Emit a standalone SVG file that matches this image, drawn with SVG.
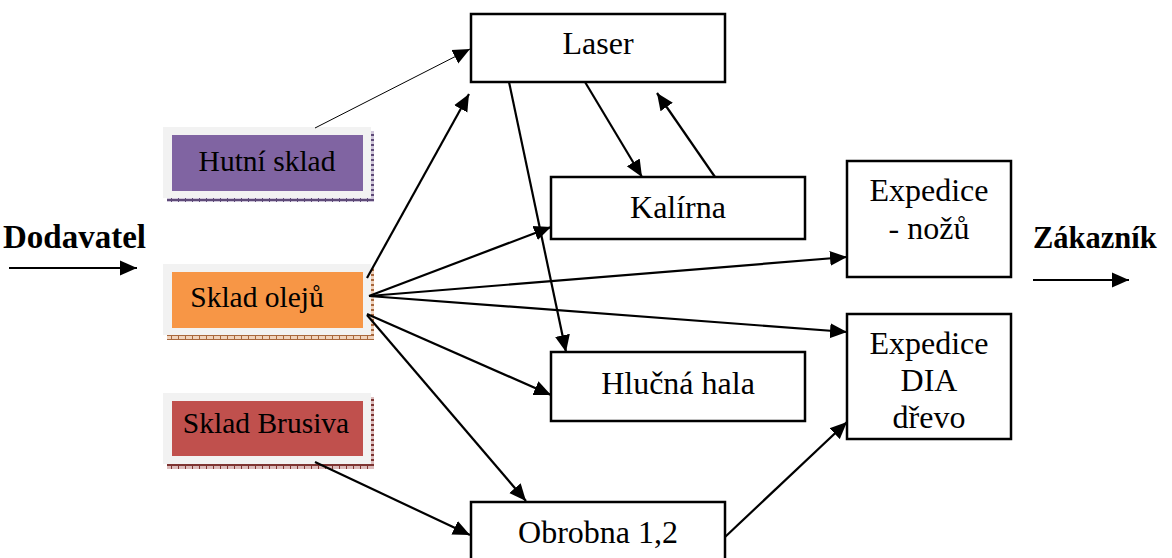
<svg xmlns="http://www.w3.org/2000/svg" width="1172" height="558" viewBox="0 0 1172 558">
  <style>
    .box { fill: #ffffff; stroke: #000000; stroke-width: 2.5; }
    .frame { fill: #f2f2f2; }
    .lbl { font-family: "Liberation Serif", "Times New Roman", serif; font-size: 32px; fill: #000000; text-anchor: middle; }
    .store { font-family: "Liberation Serif", "Times New Roman", serif; font-size: 29.5px; fill: #000000; text-anchor: middle; }
    .side { font-family: "Liberation Serif", "Times New Roman", serif; font-weight: bold; fill: #000000; }
    .conn { fill: none; stroke: #000000; stroke-width: 2.2; marker-end: url(#arrow); }
    .thin { fill: none; stroke: #000000; stroke-width: 1; marker-end: url(#arrow); }
  </style>
  <defs>
    <marker id="arrow" markerUnits="userSpaceOnUse" markerWidth="18" markerHeight="16" refX="17" refY="8" orient="auto">
      <path d="M0,0.5 L17,8 L0,15.5 Z" fill="#000000"/>
    </marker>
    <!-- hatched drop-shadow strips under the store boxes -->
    <pattern id="hatchPurple" width="7" height="5" patternUnits="userSpaceOnUse">
      <rect width="7" height="5" fill="#cfc6da"/>
      <path d="M0,0.5 H7 M0,4.5 H7 M3.5,0 V5" stroke="#5e4a78" stroke-width="1"/>
    </pattern>
    <pattern id="hatchOrange" width="7" height="5" patternUnits="userSpaceOnUse">
      <rect width="7" height="5" fill="#f0d3bd"/>
      <path d="M0,0.5 H7 M0,4.5 H7 M3.5,0 V5" stroke="#a8673c" stroke-width="1"/>
    </pattern>
    <pattern id="hatchRed" width="7" height="5" patternUnits="userSpaceOnUse">
      <rect width="7" height="5" fill="#dcbcbc"/>
      <path d="M0,0.5 H7 M0,4.5 H7 M3.5,0 V5" stroke="#7e3432" stroke-width="1"/>
    </pattern>
  </defs>

  <!-- side labels -->
  <g id="dodavatel">
    <text class="side" x="3" y="248" font-size="33">Dodavatel</text>
    <line x1="9" y1="268" x2="137" y2="268" stroke="#000000" stroke-width="2" marker-end="url(#arrow)"/>
  </g>
  <g id="zakaznik">
    <text class="side" x="1033" y="248" font-size="30.5">Zákazník</text>
    <line x1="1033" y1="280" x2="1129" y2="280" stroke="#000000" stroke-width="2" marker-end="url(#arrow)"/>
  </g>

  <!-- stores -->
  <g id="hutni-sklad">
    <rect x="167" y="197" width="207" height="5" fill="url(#hatchPurple)"/>
    <rect x="370" y="131" width="4" height="71" fill="url(#hatchPurple)"/>
    <rect class="frame" x="163" y="127" width="208" height="71"/>
    <rect x="172" y="135" width="191" height="56" fill="#8064a2"/>
    <text class="store" x="267" y="171">Hutní sklad</text>
  </g>
  <g id="sklad-oleju">
    <rect x="167" y="335" width="207" height="5" fill="url(#hatchOrange)"/>
    <rect x="370" y="268" width="4" height="72" fill="url(#hatchOrange)"/>
    <rect class="frame" x="163" y="264" width="208" height="71"/>
    <rect x="172" y="272" width="191" height="56" fill="#f79646"/>
    <text class="store" x="257" y="307">Sklad olejů</text>
  </g>
  <g id="sklad-brusiva">
    <rect x="167" y="464" width="207" height="5" fill="url(#hatchRed)"/>
    <rect x="370" y="397" width="4" height="72" fill="url(#hatchRed)"/>
    <rect class="frame" x="163" y="393" width="208" height="71"/>
    <rect x="172" y="401" width="191" height="55" fill="#c0504d"/>
    <text class="store" x="266" y="433" font-size="25">Sklad Brusiva</text>
  </g>

  <!-- process nodes -->
  <g id="laser">
    <rect class="box" x="471" y="14" width="254" height="68"/>
    <text class="lbl" x="598" y="54">Laser</text>
  </g>
  <g id="kalirna">
    <rect class="box" x="551" y="177" width="254" height="62"/>
    <text class="lbl" x="678" y="218">Kalírna</text>
  </g>
  <g id="hlucna-hala">
    <rect class="box" x="551" y="352" width="254" height="69"/>
    <text class="lbl" x="678" y="394">Hlučná hala</text>
  </g>
  <g id="obrobna">
    <rect class="box" x="471" y="502" width="254" height="70"/>
    <text class="lbl" x="598" y="543">Obrobna 1,2</text>
  </g>
  <g id="expedice-nozu">
    <rect class="box" x="847" y="161" width="164" height="116"/>
    <text class="lbl" x="929" y="201">Expedice</text>
    <text class="lbl" x="929" y="239">- nožů</text>
  </g>
  <g id="expedice-dia">
    <rect class="box" x="847" y="314" width="164" height="125"/>
    <text class="lbl" x="929" y="354">Expedice</text>
    <text class="lbl" x="929" y="391">DIA</text>
    <text class="lbl" x="929" y="428">dřevo</text>
  </g>

  <!-- connectors -->
  <g id="connectors">
    <line class="thin" x1="315" y1="128" x2="470" y2="49"/>
    <line class="conn" x1="367" y1="278" x2="469" y2="94"/>
    <line class="conn" x1="369" y1="296" x2="551" y2="227"/>
    <line class="conn" x1="369" y1="296" x2="847" y2="257"/>
    <line class="conn" x1="369" y1="296" x2="847" y2="332"/>
    <line class="conn" x1="367" y1="314" x2="551" y2="395"/>
    <line class="conn" x1="367" y1="315" x2="526" y2="501"/>
    <line class="conn" x1="315" y1="462" x2="470" y2="535"/>
    <line class="conn" x1="509" y1="82" x2="566" y2="352"/>
    <line class="conn" x1="585" y1="82" x2="642" y2="177"/>
    <line class="conn" x1="715" y1="177" x2="657" y2="93"/>
    <line class="conn" x1="725" y1="537" x2="847" y2="422"/>
  </g>
</svg>
